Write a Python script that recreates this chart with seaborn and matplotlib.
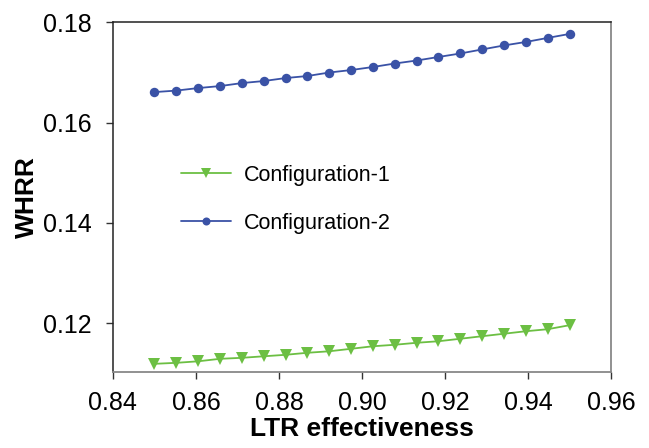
import matplotlib
matplotlib.use("Agg")
import matplotlib.pyplot as plt
import seaborn as sns
import pandas as pd

ltr_effectiveness = [0.8500, 0.8553, 0.8605, 0.8658, 0.8711, 0.8763, 0.8816, 0.8868, 0.8921, 0.8974,
                     0.9026, 0.9079, 0.9132, 0.9184, 0.9237, 0.9289, 0.9342, 0.9395, 0.9447, 0.9500]
whrr_config1 = [0.1119, 0.1121, 0.1124, 0.1129, 0.1131, 0.1134, 0.1137, 0.1141, 0.1144, 0.1149,
                0.1154, 0.1157, 0.1161, 0.1164, 0.1169, 0.1174, 0.1179, 0.1184, 0.1188, 0.1196]
whrr_config2 = [0.1661, 0.1664, 0.1669, 0.1673, 0.1679, 0.1683, 0.1689, 0.1693, 0.1700, 0.1705,
                0.1711, 0.1718, 0.1724, 0.1731, 0.1738, 0.1746, 0.1754, 0.1761, 0.1769, 0.1777]
series_names = ["Configuration-1", "Configuration-2"]
x_ticks = [0.84, 0.86, 0.88, 0.90, 0.92, 0.94, 0.96]
y_ticks = [0.12, 0.14, 0.16, 0.18]

sns.set_style("ticks")
plt.rcParams['font.family'] = ['Liberation Sans', 'DejaVu Sans']
plt.rcParams['text.color'] = 'black'
plt.rcParams['axes.labelcolor'] = 'black'
plt.rcParams['xtick.labelcolor'] = 'black'
plt.rcParams['ytick.labelcolor'] = 'black'

fig = plt.figure(figsize=(6.49, 4.48), dpi=100)
ax = fig.add_axes([0.174, 0.170, 0.7675, 0.780])

df1 = pd.DataFrame({"x": ltr_effectiveness, "y": whrr_config1})
df2 = pd.DataFrame({"x": ltr_effectiveness, "y": whrr_config2})

sns.lineplot(data=df1, x="x", y="y", ax=ax, color="#6cbf43", marker="v",
             markersize=8, markeredgewidth=0, linewidth=1.3, label=series_names[0])
sns.lineplot(data=df2, x="x", y="y", ax=ax, color="#3a52a6", marker="o",
             markersize=6.8, markeredgewidth=0, linewidth=1.3, label=series_names[1])

ax.set_xlim(0.84, 0.96)
ax.set_ylim(0.1103, 0.18)
ax.set_xticks(x_ticks)
ax.set_xticklabels([f"{v:.2f}" for v in x_ticks])
ax.set_yticks(y_ticks)
ax.set_yticklabels([f"{v:.2f}" for v in y_ticks])
ax.tick_params(axis="both", labelsize=18, length=5, width=1, color="#333333", direction="out")
ax.tick_params(axis="y", pad=10)
ax.tick_params(axis="x", pad=9)
ax.set_xlabel("LTR effectiveness", fontsize=19, fontweight="bold", labelpad=1)
ax.set_ylabel("WHRR", fontsize=19, fontweight="bold", labelpad=3)

for side in ["left", "top"]:
    ax.spines[side].set_color("#222222")
    ax.spines[side].set_linewidth(1.1)
for side in ["right", "bottom"]:
    ax.spines[side].set_color("#888888")
    ax.spines[side].set_linewidth(1.3)

leg = ax.legend(loc="center left", bbox_to_anchor=(0.1365, 0.494), frameon=False,
                fontsize=15.5, labelspacing=1.25, handlelength=2.33, handletextpad=0.6,
                borderpad=0, borderaxespad=0, markerscale=0.85)

fig.savefig("out.png", dpi=100)
